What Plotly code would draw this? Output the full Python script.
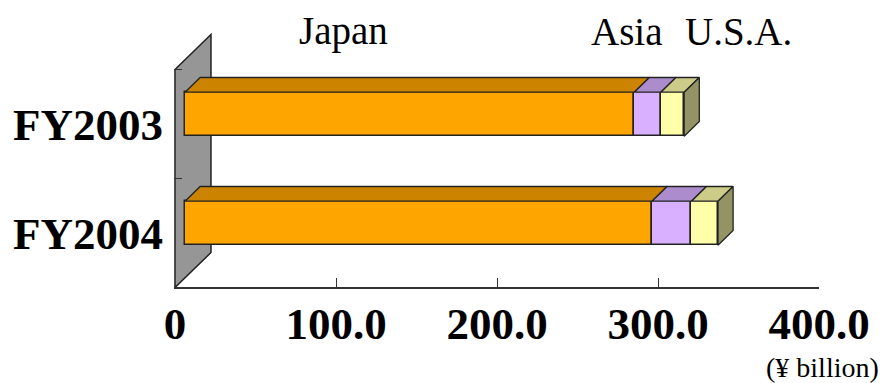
import plotly.graph_objects as go

# ---------------- data ----------------
categories = ["FY2003", "FY2004"]
regions = ["Japan", "Asia", "U.S.A."]
japan = [279.0, 290.0]
asia = [16.5, 24.5]
usa = [14.5, 16.5]
x_tickvals = [0, 100, 200, 300, 400]
x_ticktext = ["0", "100.0", "200.0", "300.0", "400.0"]
unit_label = "(¥ billion)"

# ---------------- styles ----------------
front_colors = ["#FFA500", "#D9B0FF", "#FFFFAA"]
top_colors = ["#CC8400", "#AC8CCC", "#CCCC88"]
side_color = "#939363"
edge = "#222222"
FONT = "Liberation Serif, Times New Roman, serif"

W, H = 894, 383
ml, mr, mt, mb = 174, 75, 33, 96
xr = [-0.62, 400.0]
yr = [1.495, -0.835]  # reversed: category 0 on top

# projection of depth (fraction of full floor depth) into data units
px_per_x = (W - ml - mr) / (xr[1] - xr[0])
px_per_y = (H - mt - mb) / (yr[0] - yr[1])
DX = 36 / px_per_x
DY = -35 / px_per_y
d1, d2 = 0.28, 0.70
half = 0.202

fig = go.Figure()

# side wall (background decoration, below all traces)
wx = xr[0] + 0.6
wy0, wy1 = -0.5, 1.5
fig.add_shape(type="path", layer="below", xref="x", yref="y",
              path=f"M {wx},{wy0} L {wx + DX},{wy0 + DY} L {wx + DX},{wy1 + DY} L {wx},{wy1} Z",
              fillcolor="#969696", line=dict(color=edge, width=1.5))

series = [japan, asia, usa]
for i in range(len(categories)):
    starts = [0, japan[i], japan[i] + asia[i]]
    ends = [japan[i], japan[i] + asia[i], japan[i] + asia[i] + usa[i]]
    yf = i + DY * d1
    yb = i + DY * d2
    sx1, sx2 = DX * d1, DX * d2
    for k in range(3):
        a, b = starts[k], ends[k]
        fig.add_trace(go.Scatter(
            x=[a + sx1, b + sx1, b + sx2, a + sx2, a + sx1],
            y=[yf - half, yf - half, yb - half, yb - half, yf - half],
            mode="lines", fill="toself", fillcolor=top_colors[k],
            line=dict(color=edge, width=1.3), hoverinfo="skip", showlegend=False))
    c = ends[-1]
    fig.add_trace(go.Scatter(
        x=[c + sx1, c + sx2, c + sx2, c + sx1, c + sx1],
        y=[yf - half, yb - half, yb + half, yf + half, yf - half],
        mode="lines", fill="toself", fillcolor=side_color,
        line=dict(color=edge, width=1.3), hoverinfo="skip", showlegend=False))

for k, name in enumerate(regions):
    vals = series[k]
    bases = []
    for i in range(len(categories)):
        bases.append(sum(series[j][i] for j in range(k)) + DX * d1)
    fig.add_trace(go.Bar(
        orientation="h", name=name,
        x=vals, base=bases,
        y=[i + DY * d1 for i in range(len(categories))],
        width=2 * half,
        marker=dict(color=front_colors[k], line=dict(color=edge, width=1.5)),
        showlegend=False))

# labels above the bars
def py(p):
    return (H - mb - p) / (H - mt - mb)

def px(p):
    return (p - ml) / (W - ml - mr)

for name, cx in zip(regions, [343, 627, 738]):
    fig.add_annotation(x=px(cx), y=py(31), xref="paper", yref="paper",
                       text=name, showarrow=False, xanchor="center", yanchor="middle",
                       font=dict(family=FONT, size=39, color="black"))
fig.add_annotation(x=px(822), y=py(368), xref="paper", yref="paper",
                   text=unit_label, showarrow=False, xanchor="center", yanchor="middle",
                   font=dict(family=FONT, size=28, color="black"))

fig.update_layout(
    width=W, height=H,
    margin=dict(l=ml, r=mr, t=mt, b=mb, pad=0),
    plot_bgcolor="white", paper_bgcolor="white",
    barmode="overlay", bargap=0,
    xaxis=dict(range=xr, tickvals=x_tickvals, ticktext=x_ticktext,
               showgrid=False, zeroline=False, showline=True, linecolor="#333333",
               linewidth=1.5, ticks="inside", ticklen=9, tickcolor="#333333",
               tickwidth=1.2, ticklabelstandoff=-4,
               tickfont=dict(family=FONT, size=45, color="black", weight="bold")),
    yaxis=dict(range=yr, tickvals=list(range(len(categories))), ticktext=categories,
               showgrid=False, zeroline=False, showline=False, ticks="",
               ticklabelstandoff=10,
               minor=dict(tickvals=[-0.5, 0.5, 1.5], ticks="inside", ticklen=8,
                          tickcolor="#333333", tickwidth=1.2, showgrid=False),
               tickfont=dict(family=FONT, size=45, color="black", weight="bold")),
)

fig.write_html("out.html")
